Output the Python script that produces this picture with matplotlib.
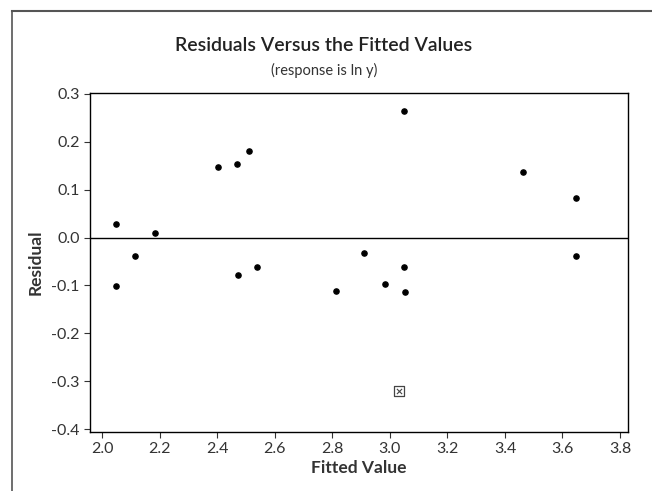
import matplotlib.pyplot as plt
from matplotlib.lines import Line2D

plt.rcParams['font.family'] = ['Lato', 'DejaVu Sans']

fitted = [2.048, 2.048, 2.114, 2.182, 2.401, 2.469, 2.509, 2.472, 2.537,
          2.812, 2.910, 2.982, 3.050, 3.051, 3.048, 3.464, 3.648, 3.648]
residual = [0.028, -0.101, -0.039, 0.010, 0.147, 0.153, 0.180, -0.079, -0.062,
            -0.111, -0.032, -0.098, -0.062, -0.113, 0.263, 0.137, 0.082, -0.039]

# unusual observation (boxed x)
out_fit = [3.032]
out_res = [-0.320]

xticks = [2.0, 2.2, 2.4, 2.6, 2.8, 3.0, 3.2, 3.4, 3.6, 3.8]
yticks = [0.3, 0.2, 0.1, 0.0, -0.1, -0.2, -0.3, -0.4]

txt = '#333333'

fig = plt.figure(figsize=(6.52, 4.91), dpi=100)
ax = fig.add_axes([0.138, 0.1208, 0.8257, 0.6904])

ax.axhline(0, color='black', lw=1.0, zorder=1)
ax.scatter(fitted, residual, s=14, color='black', zorder=3)
ax.scatter(out_fit, out_res, s=45, marker='s', facecolors='none',
           edgecolors='#444444', linewidths=0.9, zorder=3)
ax.scatter(out_fit, out_res, s=14, marker='x', color='#444444',
           linewidths=0.8, zorder=3)

ax.set_xlim(1.957, 3.829)
ax.set_ylim(-0.405, 0.302)
ax.set_xticks(xticks)
ax.set_yticks(yticks)
ax.set_xticklabels([f'{v:.1f}' for v in xticks])
ax.set_yticklabels([f'{v:.1f}' for v in yticks])
ax.tick_params(direction='out', length=4, width=0.8, labelsize=11.5,
               labelcolor=txt, color='#333333', top=False, right=False)
for s in ax.spines.values():
    s.set_linewidth(1.0)
    s.set_color('black')

ax.set_xlabel('Fitted Value', fontsize=12.5, fontweight='bold', color=txt, labelpad=3)
ax.set_ylabel('Residual', fontsize=12.5, fontweight='bold', color=txt, labelpad=5)

fig.text(0.497, 0.907, 'Residuals Versus the Fitted Values', ha='center',
         va='center', fontsize=14, fontweight='semibold', color='#222222')
fig.text(0.497, 0.857, '(response is ln y)', ha='center', va='center',
         fontsize=10.5, color=txt)

# outer frame lines of the graph window
fig.add_artist(Line2D([12 / 652, 12 / 652], [0, 1 - 11 / 491],
                      transform=fig.transFigure, color='#555555', lw=1.2))
fig.add_artist(Line2D([12 / 652, 1], [1 - 11 / 491, 1 - 11 / 491],
                      transform=fig.transFigure, color='#555555', lw=1.5))

fig.savefig('out.png', dpi=100)
